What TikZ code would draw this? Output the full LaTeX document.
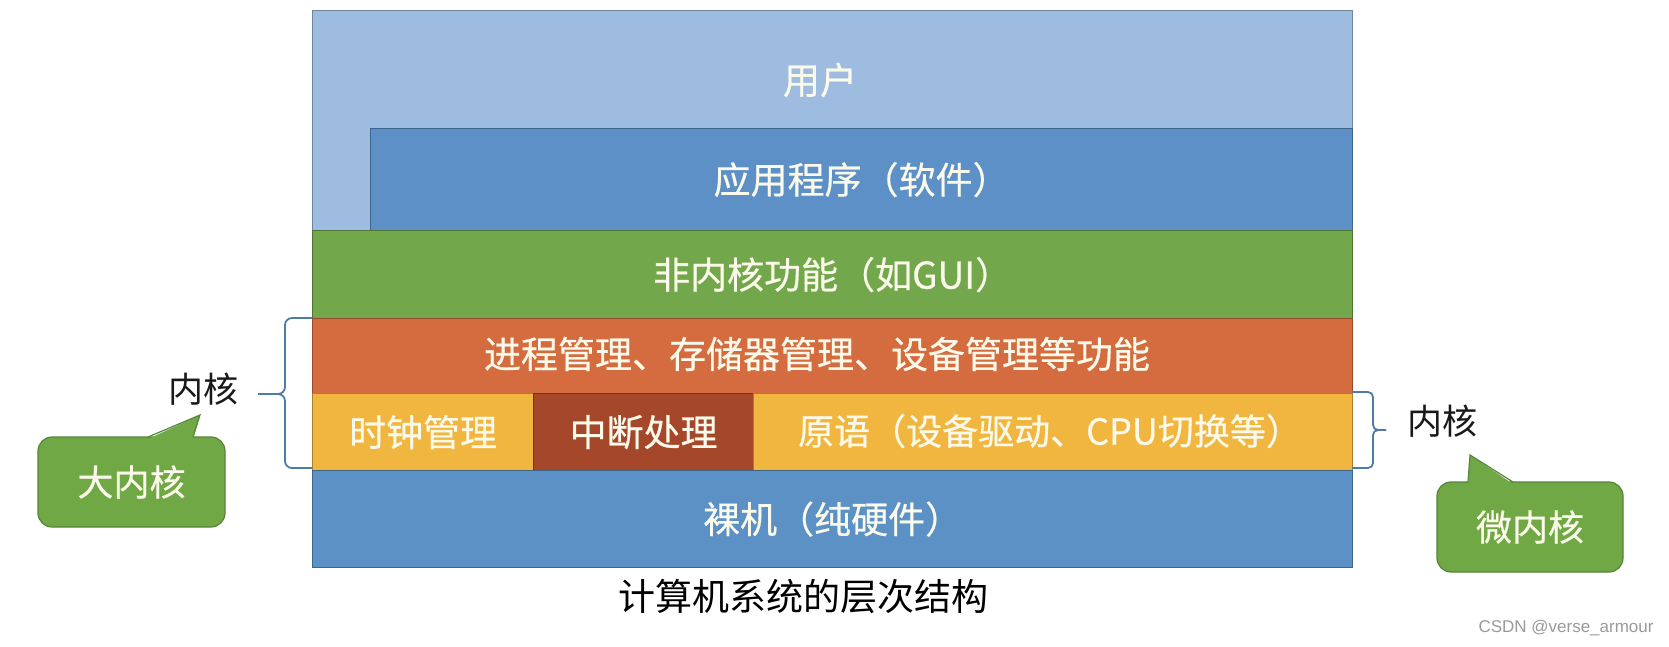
\documentclass[tikz,border=0pt]{standalone}
\usepackage{fontspec}
\newfontfamily\cjk{Noto Sans CJK SC}
\newfontfamily\cjkb[FakeBold=0.5]{Noto Sans CJK SC}
\newfontfamily\wmfont{Liberation Sans}
\definecolor{userc}{HTML}{9DBCE0}
\definecolor{appc}{HTML}{5C90C6}
\definecolor{greenc}{HTML}{72A84B}
\definecolor{orangec}{HTML}{D46C3F}
\definecolor{yellowc}{HTML}{F1B63F}
\definecolor{redc}{HTML}{A4472A}
\definecolor{hwc}{HTML}{5C91C5}
\definecolor{bracec}{HTML}{4F7BA8}
\definecolor{cfill}{HTML}{70A845}
\definecolor{cbord}{HTML}{55853A}
\definecolor{creamc}{HTML}{FBFAEA}
\definecolor{wmgray}{HTML}{9A9A9A}
\begin{document}
\begin{tikzpicture}[x=1pt,y=-1pt,
  layer/.style={draw=#1!70!black, fill=#1, line width=1.2pt, inner sep=0pt, anchor=north west,
    text=creamc, font=\cjkb\fontsize{37}{40}\selectfont},
  lbl/.style={inner sep=0pt, text=creamc, font=\cjkb\fontsize{37}{40}\selectfont},
  bracestyle/.style={draw=bracec, line width=1.8pt, rounded corners=7pt},
  callbox/.style={draw=cbord, fill=cfill, line width=1.2pt, rounded corners=14pt,
    minimum width=186pt, minimum height=90pt, inner sep=0pt,
    text=creamc, font=\cjkb\fontsize{36}{40}\selectfont},
  blacklbl/.style={inner sep=0pt, text=black!90, font=\cjk\fontsize{35}{40}\selectfont}]
\useasboundingbox (0,0) rectangle (1669,646);
\fill[white] (0,0) rectangle (1669,646);
% layers
\node[layer=userc, minimum width=1040pt, minimum height=220pt] (user) at (312,10) {};
\node[lbl] (usertext) at (820,80) {用户};
\node[layer=appc, minimum width=982pt, minimum height=102pt] (app) at (370,128) {应用程序（软件）};
\node[layer=greenc, minimum width=1040pt, minimum height=88pt] (gui) at (312,230) {非内核功能（如GUI）};
\node[layer=orangec, minimum width=1040pt, minimum height=75pt] (proc) at (312,318) {};
\node[lbl] (proctext) at (817,354) {进程管理、存储器管理、设备管理等功能};
\node[layer=yellowc, minimum width=221pt, minimum height=77pt] (clock) at (312,393) {时钟管理};
\node[layer=redc, minimum width=220pt, minimum height=77pt] (intr) at (533,393) {中断处理};
\node[layer=yellowc, minimum width=599pt, minimum height=77pt] (prim) at (753,393) {};
\node[lbl, font=\cjkb\fontsize{36}{40}\selectfont] (primtext) at (1050,431) {原语（设备驱动、CPU切换等）};
\node[layer=hwc, minimum width=1040pt, minimum height=97pt] (hw) at (312,470) {裸机（纯硬件）};
% braces
\coordinate (lbtop) at (312,318);
\coordinate (lbbot) at (312,468);
\coordinate (lbtip) at (258,394);
\draw[bracestyle] (lbtop) -- (285,318) -- (285,394) -- (lbtip);
\draw[bracestyle] (lbbot) -- (285,468) -- (285,394) -- (lbtip);
\coordinate (rbtop) at (1352,392);
\coordinate (rbbot) at (1352,468);
\coordinate (rbtip) at (1386,430);
\draw[bracestyle, rounded corners=5pt] (rbtop) -- (1373,392) -- (1373,430) -- (rbtip);
\draw[bracestyle, rounded corners=5pt] (rbbot) -- (1373,468) -- (1373,430) -- (rbtip);
% labels
\node[blacklbl] (kleft) at (203,389) {内核};
\node[blacklbl] (kright) at (1442,421) {内核};
% callouts
\node[callbox, minimum width=187pt] (big) at (131.5,482) {大内核};
\coordinate (bigtip) at (200,415);
\fill[cfill] (148,439) -- (bigtip) -- (193,439) -- cycle;
\draw[cbord, line width=1.2pt, line join=miter] (148,437) -- (bigtip) -- (193,437);
\node[callbox] (micro) at (1530,527) {微内核};
\coordinate (microtip) at (1470,455);
\fill[cfill] (1468,484) -- (microtip) -- (1513,484) -- cycle;
\draw[cbord, line width=1.2pt, line join=miter] (1468,482) -- (microtip) -- (1513,482);
% caption
\node[inner sep=0pt, text=black, font=\cjk\fontsize{37}{40}\selectfont] (caption) at (803,597) {计算机系统的层次结构};
\node[inner sep=0pt, text=wmgray, font=\wmfont\fontsize{17}{20}\selectfont] (wm) at (1566,628) {CSDN @verse\_armour};
\end{tikzpicture}
\end{document}
